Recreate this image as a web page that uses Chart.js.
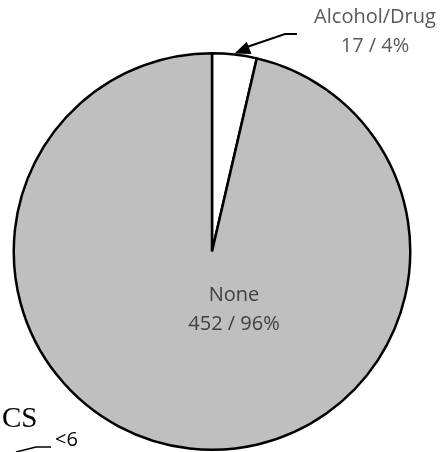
<!DOCTYPE html>
<html>
<head>
<meta charset="utf-8">
<script src="https://cdn.jsdelivr.net/npm/chart.js@4/dist/chart.umd.min.js"></script>
<style>
  html, body { margin: 0; padding: 0; background: #fff; }
  #wrap { width: 448px; height: 452px; position: relative; }
</style>
</head>
<body>
<div id="wrap"><canvas id="myChart" width="448" height="452"></canvas></div>
<script>
const categories = ['Alcohol/Drug', 'None'];
const counts = [17, 452];
const percents = ['4%', '96%'];
const sliceColors = ['#ffffff', '#bfbfbf'];

// labels, leader arrow and the clipped bits of the neighbouring chart
const labelPlugin = {
  id: 'sliceLabels',
  afterDatasetsDraw(chart) {
    const ctx = chart.ctx;
    const arcs = chart.getDatasetMeta(0).data;
    const a = arcs[0];
    const n = arcs[1];
    ctx.save();
    ctx.textAlign = 'center';
    ctx.textBaseline = 'alphabetic';
    ctx.font = '20px "Open Sans", sans-serif';

    // outside label for the small slice
    ctx.fillStyle = '#595959';
    ctx.fillText(categories[0], 375, 23);
    ctx.fillText(counts[0] + ' / ' + percents[0], 375, 52);

    // arrow to the middle of the small slice
    const mid = (a.startAngle + a.endAngle) / 2;
    const tx = a.x + Math.cos(mid) * a.outerRadius;
    const ty = a.y + Math.sin(mid) * a.outerRadius - 1;
    ctx.strokeStyle = '#000';
    ctx.lineWidth = 2;
    ctx.beginPath();
    ctx.moveTo(297, 34);
    ctx.lineTo(285, 34);
    ctx.lineTo(tx + 8, ty - 5);
    ctx.stroke();
    const ang = Math.atan2(ty - 34, tx - 285);
    ctx.fillStyle = '#000';
    ctx.beginPath();
    ctx.moveTo(tx, ty);
    ctx.lineTo(tx - 17 * Math.cos(ang - 0.4), ty - 17 * Math.sin(ang - 0.4));
    ctx.lineTo(tx - 17 * Math.cos(ang + 0.4), ty - 17 * Math.sin(ang + 0.4));
    ctx.closePath();
    ctx.fill();

    // inside label for the big slice
    ctx.fillStyle = '#404040';
    ctx.fillText(categories[1], n.x + 22, n.y + 49);
    ctx.fillText(counts[1] + ' / ' + percents[1], n.x + 22, n.y + 78);

    // cut-off neighbour chart in the corner
    ctx.textAlign = 'left';
    ctx.fillStyle = '#000';
    ctx.font = '29px "Liberation Serif", serif';
    ctx.fillText('CS', 2, 427);
    ctx.font = '20px "Open Sans", sans-serif';
    ctx.fillText('<6', 55, 446);
    ctx.lineWidth = 1.5;
    ctx.beginPath();
    ctx.moveTo(16, 452);
    ctx.lineTo(36, 447);
    ctx.lineTo(51, 447);
    ctx.stroke();
    ctx.restore();
  },
};

new Chart(document.getElementById('myChart'), {
  type: 'pie',
  data: {
    labels: categories,
    datasets: [{
      data: counts,
      backgroundColor: sliceColors,
      borderColor: '#000',
      borderWidth: 2.5,
    }],
  },
  options: {
    responsive: false,
    animation: false,
    events: [],
    layout: { padding: { left: 12, right: 36, top: 52, bottom: 1 } },
    plugins: {
      legend: { display: false },
      tooltip: { enabled: false },
    },
  },
  plugins: [labelPlugin],
});
</script>
</body>
</html>
